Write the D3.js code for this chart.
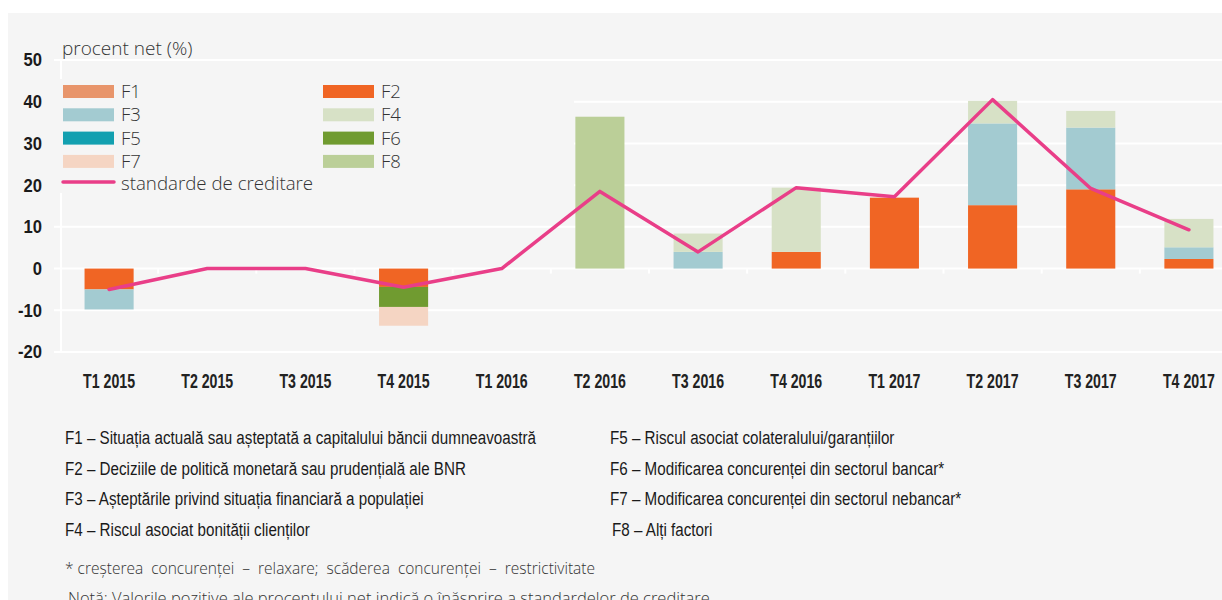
<!DOCTYPE html>
<html><head><meta charset="utf-8">
<script src="https://cdn.jsdelivr.net/npm/d3@7"></script>
<style>
body{margin:0;background:#fff;}
svg{display:block;}
.cond{font-family:"Liberation Sans",Arial,sans-serif;}
.light{font-family:"Open Sans","Noto Sans",sans-serif;font-weight:300;}
</style></head>
<body><svg id="c" width="1222" height="600"></svg>
<script>
const categories = ["T1 2015","T2 2015","T3 2015","T4 2015","T1 2016","T2 2016","T3 2016","T4 2016","T1 2017","T2 2017","T3 2017","T4 2017"];
const F1 = [0,0,0,0,0,0,0,0,0,0,0,0];
const F2 = [-5.0,0,0,-4.4,0,0,0,4.0,17.0,15.2,19.0,2.3];
const F3 = [-4.8,0,0,0,0,0,4.0,0,0,19.6,14.8,2.8];
const F4 = [0,0,0,0,0,0,4.4,15.4,0,5.4,4.0,6.8];
const F5 = [0,0,0,0,0,0,0,0,0,0,0,0];
const F6 = [0,0,0,-4.8,0,0,0,0,0,0,0,0];
const F7 = [0,0,0,-4.5,0,0,0,0,0,0,0,0];
const F8 = [0,0,0,0,0,36.4,0,0,0,0,0,0];
const standard = [-5.0,0,0,-4.5,0,18.5,4.0,19.4,17.2,40.5,19.2,9.3];
const yTicks = [-20,-10,0,10,20,30,40,50];
const seriesNames = ["F1","F2","F3","F4","F5","F6","F7","F8"];
const seriesColors = ["#e8956b","#f06524","#a3cbd1","#d7e1c6","#13a0b0","#709b30","#f5d5c3","#bbcf98"];
const lineName = "standarde de creditare";
const lineColor = "#e93e88";
const footLeft = ["F1 – Situația actuală sau așteptată a capitalului  băncii  dumneavoastră",
  "F2 – Deciziile de politică  monetară sau prudențială  ale BNR",
  "F3 – Așteptările privind situația financiară  a populației",
  "F4 – Riscul asociat bonității  clienților"];
const footRight = ["F5 – Riscul  asociat colateralului/garanțiilor",
  "F6 – Modificarea concurenței  din sectorul  bancar*",
  "F7 – Modificarea concurenței  din sectorul  nebancar*",
  "F8 – Alți factori"];
const note1 = "* creșterea  concurenței  –  relaxare;  scăderea  concurenței  –  restrictivitate";
const note2 = "Notă: Valorile pozitive ale procentului net indică o înăsprire a standardelor de creditare.";

const seriesData = [F1,F2,F3,F4,F5,F6,F7,F8];
const svg = d3.select("#c");
svg.append("rect").attr("x",8).attr("y",13).attr("width",1214).attr("height",587).attr("fill","#f5f5f5");

const x = d3.scaleBand().domain(categories).range([60,1238]).paddingInner(0.5).paddingOuter(0.25);
const y = d3.scaleLinear().domain([-20,50]).range([352,60]);

function measure(txt, size, weight){
  const t = svg.append("text").attr("class","cond").attr("font-size",size).attr("font-weight",weight).style("white-space","pre").text(txt);
  const w = t.node().getComputedTextLength(); t.remove(); return w;
}

// gridlines
svg.append("g").selectAll("line").data(yTicks).join("line")
  .attr("x1",54).attr("x2",1222).attr("y1",d=>y(d)).attr("y2",d=>y(d))
  .attr("stroke","#fff").attr("stroke-width",2);
svg.append("line").attr("x1",61).attr("x2",61).attr("y1",y(50)).attr("y2",y(-20)).attr("stroke","#fff").attr("stroke-width",2);

// stacked bars
const table = categories.map((c,i)=>{const o={cat:c}; seriesNames.forEach((s,j)=>o[s]=seriesData[j][i]); return o;});
const stack = d3.stack().keys(seriesNames).offset(d3.stackOffsetDiverging)(table);
const color = d3.scaleOrdinal().domain(seriesNames).range(seriesColors);
svg.append("g").selectAll("g").data(stack).join("g").attr("fill",d=>color(d.key))
  .selectAll("rect").data(d=>d).join("rect")
  .attr("x",d=>x(d.data.cat)).attr("width",x.bandwidth())
  .attr("y",d=>y(Math.max(d[0],d[1]))).attr("height",d=>Math.abs(y(d[0])-y(d[1])));

// category ticks on zero line
const step = x.step();
svg.append("g").selectAll("line").data(categories.slice(1)).join("line")
  .attr("x1",d=>x(d)-step*0.25).attr("x2",d=>x(d)-step*0.25)
  .attr("y1",y(0)).attr("y2",y(0)+5).attr("stroke","#fff").attr("stroke-width",2);

// legend box (covers gridlines)
svg.append("rect").attr("x",53).attr("y",79).attr("width",521).attr("height",114).attr("fill","#f5f5f5");

// line
const line = d3.line().x((d,i)=>x(categories[i])+x.bandwidth()/2).y(d=>y(d));
svg.append("path").datum(standard).attr("d",line).attr("fill","none")
  .attr("stroke",lineColor).attr("stroke-width",3.5).attr("stroke-linejoin","round").attr("stroke-linecap","round");

// y labels
const ySize=18, yScaleX = 24/measure("-20",ySize,"bold");
svg.append("g").selectAll("text").data(yTicks).join("text").attr("class","cond")
  .attr("transform",d=>`translate(42,${y(d)}) scale(${yScaleX},1)`).attr("dy","0.36em").attr("text-anchor","end")
  .attr("font-size",ySize).attr("font-weight","bold").attr("fill","#1a1a1a").text(d=>d);
// x labels
const xSize=19.5, xScaleX = 52/measure("T1 2015",xSize,"bold");
svg.append("g").selectAll("text").data(categories).join("text").attr("class","cond")
  .attr("transform",d=>`translate(${x(d)+x.bandwidth()/2},388) scale(${xScaleX},1)`).attr("text-anchor","middle")
  .attr("font-size",xSize).attr("font-weight","bold").attr("fill","#222").text(d=>d);

svg.append("text").attr("class","light").attr("x",62).attr("y",55).attr("font-size",19).attr("fill","#333").text("procent net (%)");

// legend
const lg = svg.append("g");
seriesNames.forEach((s,i)=>{
  const col=i%2, row=Math.floor(i/2);
  const lx = col===0?63:323, ly = 85+row*23.3;
  lg.append("rect").attr("x",lx).attr("y",ly).attr("width",51).attr("height",13).attr("fill",seriesColors[i]);
  lg.append("text").attr("class","light").attr("x",lx+58).attr("y",ly+13).attr("font-size",18.5).attr("fill","#333").text(s);
});
lg.append("line").attr("x1",63).attr("x2",114).attr("y1",182).attr("y2",182).attr("stroke",lineColor).attr("stroke-width",3.5).attr("stroke-linecap","round");
lg.append("text").attr("class","light").attr("x",121).attr("y",189.5).attr("font-size",18.7).attr("fill","#333").text(lineName);

// footnotes
const fSize=18, fScaleX = 480/measure(footLeft[0],fSize,"normal");
const fg = svg.append("g").attr("class","cond").attr("font-size",fSize).attr("fill","#1a1a1a").style("white-space","pre");
fg.selectAll(".fl").data(footLeft).join("text").attr("class","fl").attr("transform",(d,i)=>`translate(65,${444+i*30.5}) scale(${fScaleX},1)`).text(d=>d);
fg.selectAll(".fr").data(footRight).join("text").attr("class","fr").attr("transform",(d,i)=>`translate(${i===3?612:610},${444+i*30.5}) scale(${fScaleX},1)`).text(d=>d);
svg.append("text").attr("class","light").style("white-space","pre").attr("x",65).attr("y",574).attr("font-size",15.5).attr("fill","#333").text(note1);
svg.append("text").attr("class","light").attr("x",68).attr("y",604).attr("font-size",16.5).attr("fill","#333").text(note2);
</script></body></html>
